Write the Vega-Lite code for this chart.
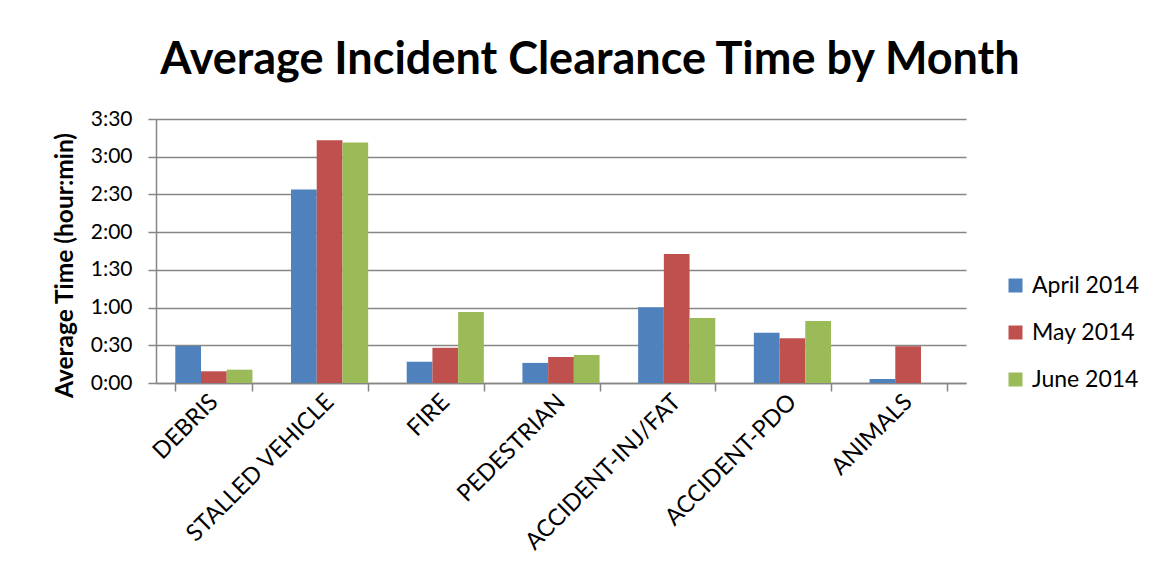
{
  "$schema": "https://vega.github.io/schema/vega-lite/v6.json",
  "autosize": {"type": "none"},
  "padding": {"left": 156, "top": 119, "right": 184, "bottom": 194},
  "width": 810,
  "height": 264,
  "background": "white",
  "title": {
    "text": "Average Incident Clearance Time by Month",
    "font": "Lato",
    "fontSize": 45,
    "fontWeight": "bold",
    "color": "#000000",
    "anchor": "middle",
    "dx": 29,
    "offset": 25
  },
  "data": {
    "values": [
      {"type": "DEBRIS", "month": "April 2014", "minutes": 29.5},
      {"type": "DEBRIS", "month": "May 2014", "minutes": 9.3},
      {"type": "DEBRIS", "month": "June 2014", "minutes": 10.6},
      {"type": "STALLED VEHICLE", "month": "April 2014", "minutes": 154},
      {"type": "STALLED VEHICLE", "month": "May 2014", "minutes": 193},
      {"type": "STALLED VEHICLE", "month": "June 2014", "minutes": 191.4},
      {"type": "FIRE", "month": "April 2014", "minutes": 17},
      {"type": "FIRE", "month": "May 2014", "minutes": 28},
      {"type": "FIRE", "month": "June 2014", "minutes": 56.5},
      {"type": "PEDESTRIAN", "month": "April 2014", "minutes": 16},
      {"type": "PEDESTRIAN", "month": "May 2014", "minutes": 20.7},
      {"type": "PEDESTRIAN", "month": "June 2014", "minutes": 22.3},
      {"type": "ACCIDENT-INJ/FAT", "month": "April 2014", "minutes": 60.3},
      {"type": "ACCIDENT-INJ/FAT", "month": "May 2014", "minutes": 102.7},
      {"type": "ACCIDENT-INJ/FAT", "month": "June 2014", "minutes": 51.8},
      {"type": "ACCIDENT-PDO", "month": "April 2014", "minutes": 40},
      {"type": "ACCIDENT-PDO", "month": "May 2014", "minutes": 35.6},
      {"type": "ACCIDENT-PDO", "month": "June 2014", "minutes": 49.4},
      {"type": "ANIMALS", "month": "April 2014", "minutes": 3.2},
      {"type": "ANIMALS", "month": "May 2014", "minutes": 29.2}
    ]
  },
  "mark": {"type": "bar"},
  "encoding": {
    "x": {
      "field": "type",
      "type": "nominal",
      "sort": null,
      "scale": {"paddingInner": 0.3333, "paddingOuter": 0.1667},
      "axis": {
        "title": null,
        "labelAngle": -45,
        "labelAlign": "right",
        "labelBaseline": "middle",
        "labelFont": "Lato",
        "labelFontSize": 23.5,
        "labelColor": "#000000",
        "labelPadding": 7,
        "labelLimit": 0,
        "labelOverlap": false,
        "tickBand": "extent",
        "tickSize": 8,
        "tickColor": "#868686",
        "tickWidth": 1.5,
        "domainColor": "#868686",
        "domainWidth": 1.5,
        "grid": false
      }
    },
    "xOffset": {
      "field": "month",
      "type": "nominal",
      "sort": ["April 2014", "May 2014", "June 2014"],
      "scale": {"domain": ["April 2014", "May 2014", "June 2014"], "paddingInner": 0, "paddingOuter": 0}
    },
    "y": {
      "field": "minutes",
      "type": "quantitative",
      "scale": {"domain": [0, 210], "nice": false},
      "axis": {
        "title": "Average Time (hour:min)",
        "titleFont": "Lato",
        "titleFontSize": 24.5,
        "titleFontWeight": "bold",
        "titleColor": "#000000",
        "titlePadding": 13,
        "titleY": 146,
        "values": [0, 30, 60, 90, 120, 150, 180, 210],
        "labelExpr": "floor(datum.value/60) + ':' + (datum.value % 60 < 10 ? '0' : '') + (datum.value % 60)",
        "labelFont": "Lato",
        "labelFontSize": 21,
        "labelColor": "#000000",
        "labelPadding": 16,
        "tickSize": 8,
        "tickColor": "#868686",
        "tickWidth": 1.5,
        "domainColor": "#868686",
        "domainWidth": 1.5,
        "grid": true,
        "gridColor": "#868686",
        "gridWidth": 1.5
      }
    },
    "color": {
      "field": "month",
      "type": "nominal",
      "sort": ["April 2014", "May 2014", "June 2014"],
      "scale": {
        "domain": ["April 2014", "May 2014", "June 2014"],
        "range": ["#4F81BD", "#C0504D", "#9BBB59"]
      },
      "legend": {
        "title": null,
        "orient": "none",
        "legendX": 848,
        "legendY": 155,
        "symbolType": "square",
        "symbolSize": 196,
        "symbolStrokeWidth": 0,
        "labelFont": "Lato",
        "labelFontSize": 23,
        "labelColor": "#000000",
        "labelOffset": 5,
        "rowPadding": 23
      }
    }
  },
  "config": {
    "view": {"stroke": null}
  }
}
